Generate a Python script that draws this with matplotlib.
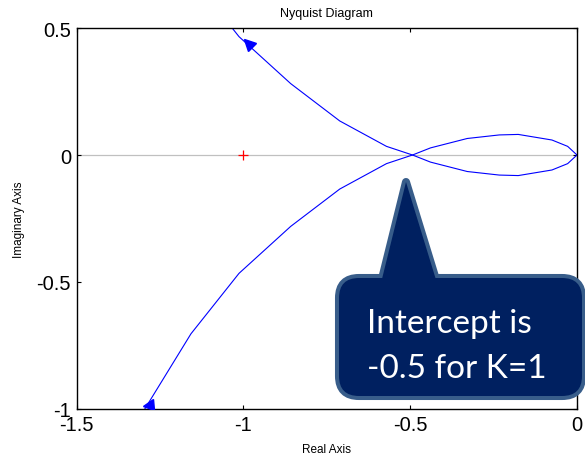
import matplotlib
matplotlib.use("Agg")
import matplotlib.pyplot as plt
from matplotlib.markers import MarkerStyle
from matplotlib.transforms import Affine2D
from matplotlib.patches import FancyBboxPatch, Polygon

plt.rcParams['font.family'] = ['Liberation Sans', 'DejaVu Sans']
plt.rcParams['axes.unicode_minus'] = False

# one branch of the Nyquist curve (origin -> outwards)
# the other branch is its mirror image about the real axis
branch_re = [0.0, -0.028, -0.075, -0.176, -0.233, -0.329, -0.439, -0.493,
             -0.571, -0.711, -0.858, -1.013, -1.157, -1.30]
branch_im = [0.0, 0.034, 0.059, 0.081, 0.079, 0.065, 0.028, 0.0,
             -0.034, -0.134, -0.281, -0.466, -0.704, -1.01]

# direction arrows (re, im, angle in degrees)
arrows = [(-0.985, 0.440, 137), (-1.285, -0.984, 190)]

crit_pt = (-1, 0)

xticks = [-1.5, -1, -0.5, 0]
xlabels = ['-1.5', '-1', '-0.5', '0']
yticks = [-1, -0.5, 0, 0.5]
ylabels = ['-1', '-0.5', '0', '0.5']

callout_lines = ['Intercept is', '-0.5 for K=1']

W, H = 585, 456
fig = plt.figure(figsize=(W / 100, H / 100), dpi=100)
ax = fig.add_axes([76.5 / W, (H - 410) / H, (577 - 76.5) / W, (410 - 29) / H])

ax.axhline(0, color='#c0c0c0', lw=0.9, zorder=1)
ax.plot(branch_re, branch_im, color='#0000ff', lw=0.8, zorder=2)
ax.plot(branch_re, [-v for v in branch_im], color='#0000ff', lw=0.8, zorder=2)
for re, im, ang in arrows:
    m = MarkerStyle('>', transform=Affine2D().rotate_deg(ang))
    ax.plot(re, im, marker=m, color='#0000ff', markersize=8, ls='none', zorder=3)
ax.plot(*crit_pt, marker='+', color='red', markersize=7, mew=0.9, zorder=3)

ax.set_xlim(-1.5, 0)
ax.set_ylim(-1, 0.5)
ax.set_xticks(xticks)
ax.set_xticklabels(xlabels)
ax.set_yticks(yticks)
ax.set_yticklabels(ylabels)
ax.tick_params(direction='in', length=3, width=0.8, labelsize=14.5,
               top=True, right=True, pad=4)
for s in ax.spines.values():
    s.set_linewidth(1.0)

ax.set_title('Nyquist Diagram', fontsize=9, pad=9)
ax.set_xlabel('Real Axis', fontsize=8.5, labelpad=7)
ax.set_ylabel('Imaginary Axis', fontsize=8.5, labelpad=8)

# callout box (figure pixel coords, y measured from top)
def px(x, y):
    return (x / 100, (H - y) / 100)

border = '#385d8a'
fill = '#002060'
tr = fig.dpi_scale_trans
x0, y0 = px(339, 397)
x1, y1 = px(582, 279)
tri = [px(381, 284), px(406, 183), px(437, 284)]
for layer in (0, 1):
    fc = border if layer == 0 else fill
    ec = border if layer == 0 else 'none'
    lw = 5.8 if layer == 0 else 0
    box = FancyBboxPatch((x0, y0), x1 - x0, y1 - y0,
                         boxstyle='round,pad=0,rounding_size=0.2',
                         transform=tr, fc=fc, ec=ec, lw=lw, zorder=10 + layer,
                         joinstyle='round')
    pol = Polygon(tri, closed=True, transform=tr, fc=fc, ec=ec, lw=lw,
                  zorder=10 + layer, joinstyle='round')
    fig.add_artist(box)
    fig.add_artist(pol)

for i, line in enumerate(callout_lines):
    fig.text(367 / W, (H - 333 - 45 * i) / H, line, color='white',
             fontsize=24, family=['Lato', 'DejaVu Sans'], va='baseline',
             ha='left', zorder=12)

fig.savefig('out.png', dpi=100)
